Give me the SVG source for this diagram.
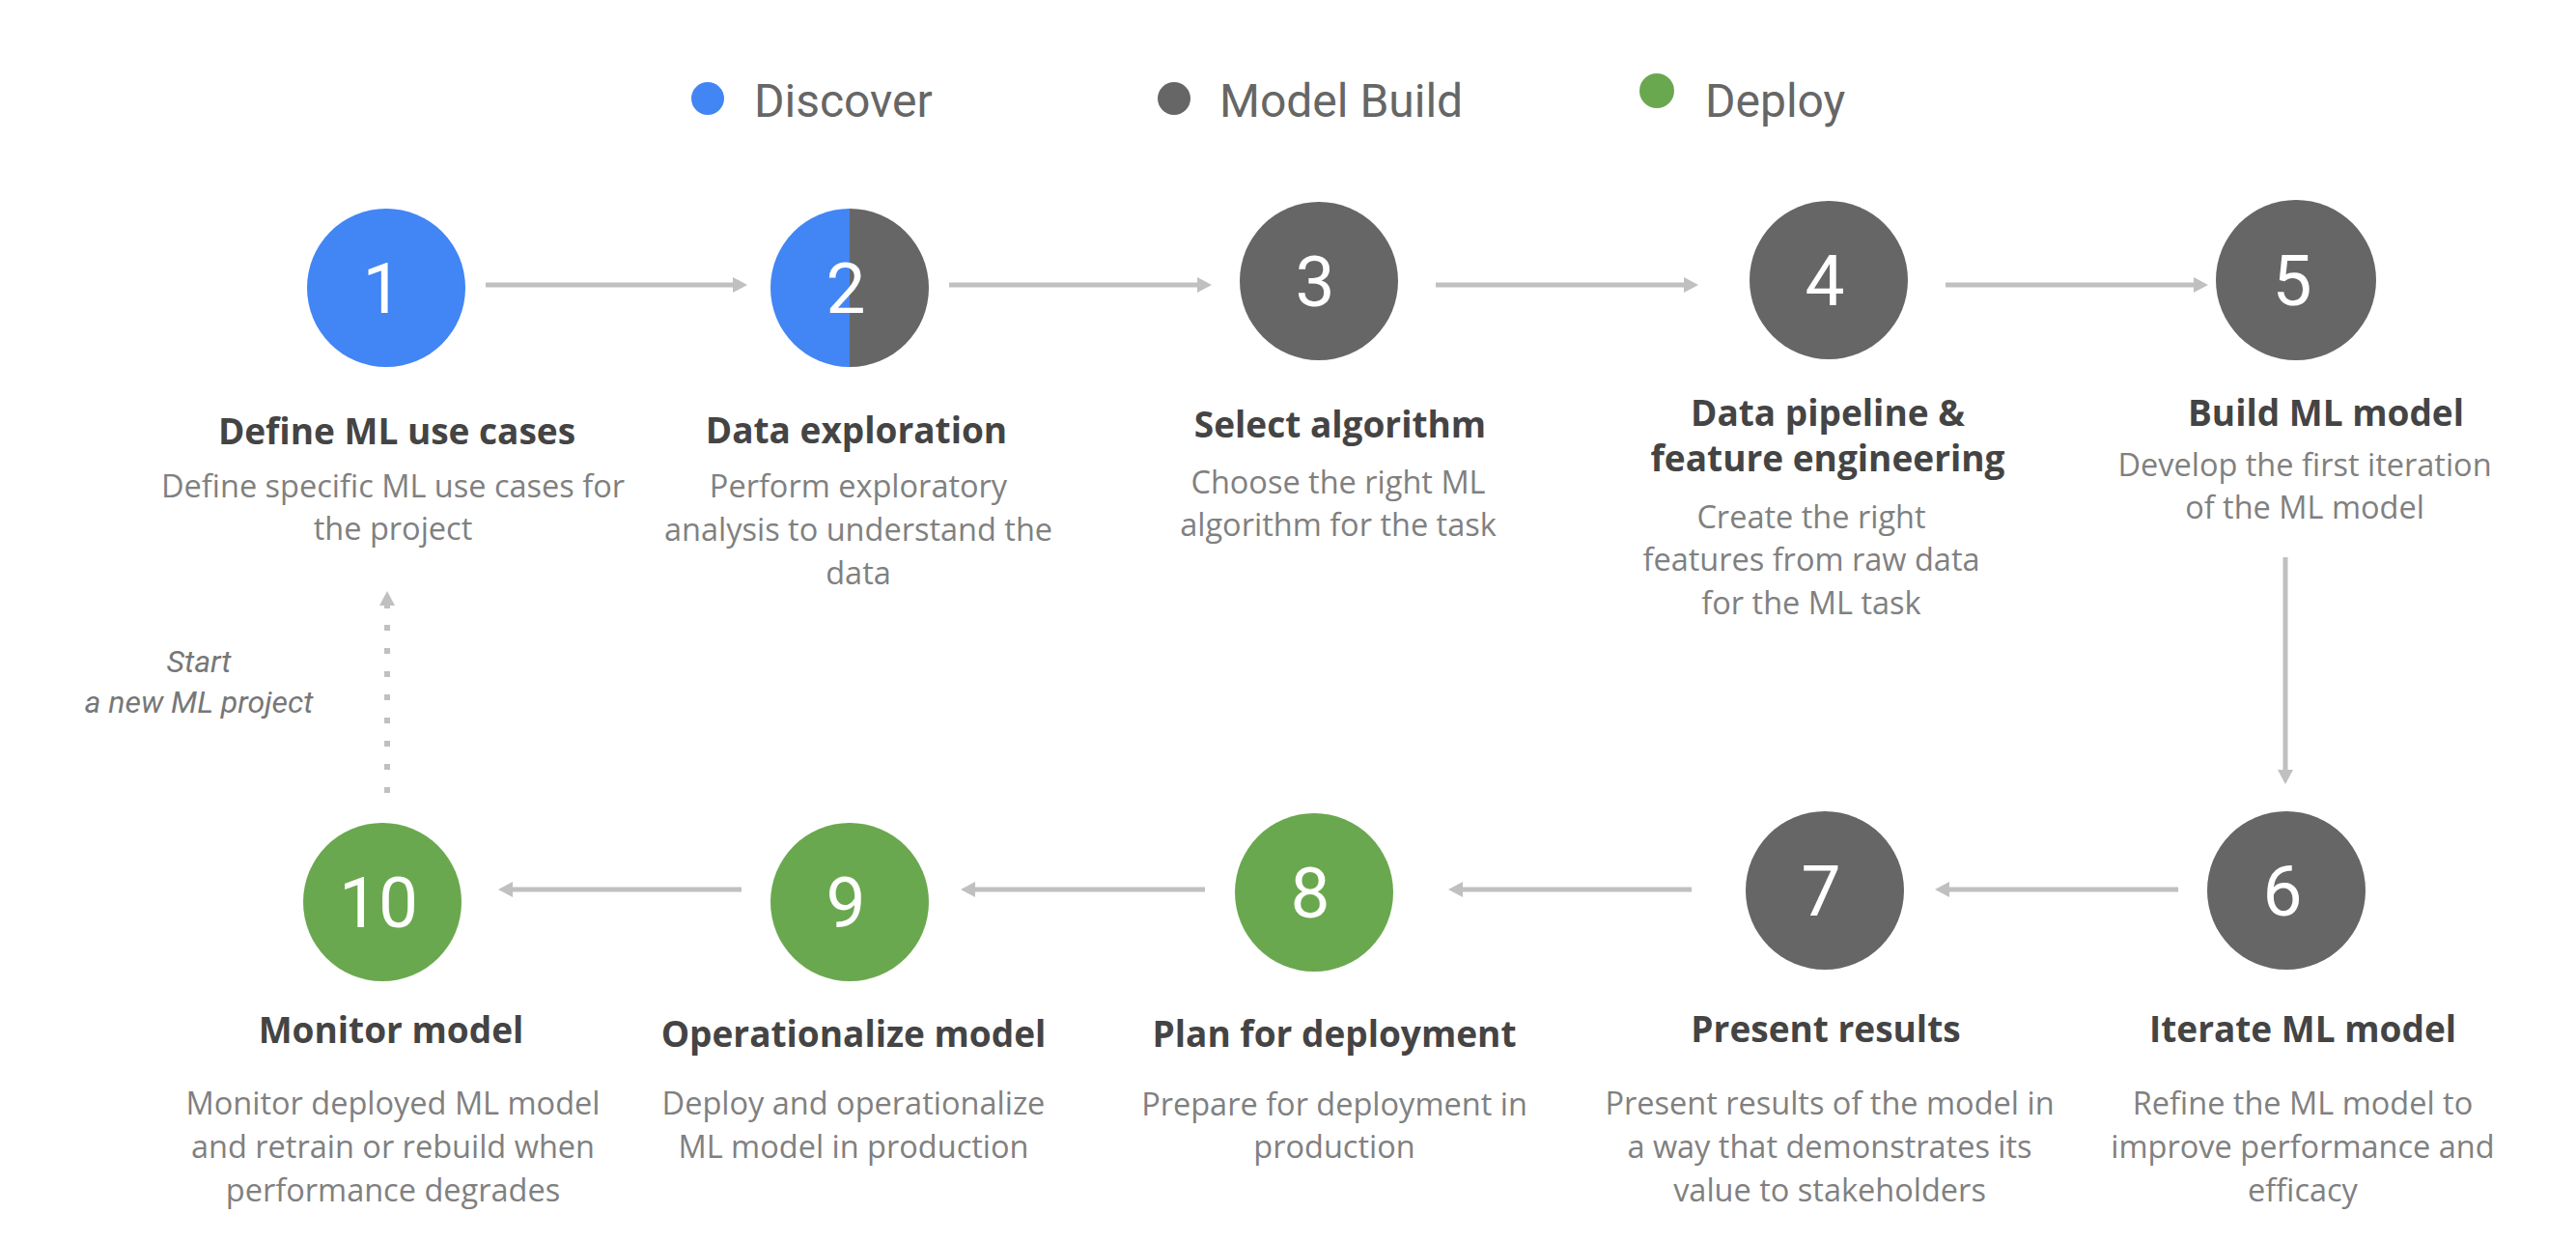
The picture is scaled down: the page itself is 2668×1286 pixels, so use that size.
<svg xmlns="http://www.w3.org/2000/svg" width="2668" height="1286" viewBox="0 0 2668 1286">
<style>
.bg{fill:#ffffff}
.blue{fill:#4285f4}
.gray{fill:#666666}
.green{fill:#6aa84f}
.num{font-family:Roboto,"Liberation Sans",sans-serif;font-size:73px;fill:#ffffff;text-anchor:middle}
.legend{font-family:Roboto,"Liberation Sans",sans-serif;font-size:48px;fill:#666666}
.title{font-family:"Open Sans","Noto Sans","Liberation Sans",sans-serif;font-size:37px;font-weight:700;fill:#444444;text-anchor:middle}
.desc{font-family:"Open Sans","Noto Sans","Liberation Sans",sans-serif;font-size:32.5px;fill:#808080;text-anchor:middle}
.note{font-family:Roboto,"Liberation Sans",sans-serif;font-size:32px;font-style:italic;fill:#777777;text-anchor:middle}
.conn{stroke:#c0c0c0;stroke-width:5;fill:none}
.dots{stroke:#c0c0c0;stroke-width:6;fill:none;stroke-dasharray:6 18}
.head{fill:#c0c0c0}
</style>
<defs>
<marker id="ah" markerUnits="userSpaceOnUse" markerWidth="16" markerHeight="16" refX="3" refY="8" orient="auto">
<path d="M0,0 L15,8 L0,16 Z" class="head"/>
</marker>
</defs>
<rect class="bg" x="0" y="0" width="2668" height="1286"/>

<g id="legend">
<circle class="blue" cx="733" cy="102" r="17"/>
<text class="legend" x="781" y="121">Discover</text>
<circle class="gray" cx="1216" cy="102" r="17"/>
<text class="legend" x="1263" y="121">Model Build</text>
<circle class="green" cx="1716" cy="94" r="18"/>
<text class="legend" x="1766" y="121">Deploy</text>
</g>

<g id="connectors">
<line class="conn" x1="503" y1="295" x2="762" y2="295" marker-end="url(#ah)"/>
<line class="conn" x1="983" y1="295" x2="1243" y2="295" marker-end="url(#ah)"/>
<line class="conn" x1="1487" y1="295" x2="1747" y2="295" marker-end="url(#ah)"/>
<line class="conn" x1="2015" y1="295" x2="2275" y2="295" marker-end="url(#ah)"/>
<line class="conn" x1="2367" y1="577" x2="2367" y2="800" marker-end="url(#ah)"/>
<line class="conn" x1="2256" y1="921" x2="2016" y2="921" marker-end="url(#ah)"/>
<line class="conn" x1="1752" y1="921" x2="1512" y2="921" marker-end="url(#ah)"/>
<line class="conn" x1="1248" y1="921" x2="1007" y2="921" marker-end="url(#ah)"/>
<line class="conn" x1="768" y1="921" x2="528" y2="921" marker-end="url(#ah)"/>
<line class="dots" x1="401" y1="821" x2="401" y2="641"/>
<path class="head" d="M401,612 L409,627 L404,627 L404,630 L398,630 L398,627 L393,627 Z"/>
<text class="note" x="206" y="696">Start</text>
<text class="note" x="206" y="738">a new ML project</text>
</g>

<g id="node1">
<circle class="blue" cx="400" cy="298" r="82"/>
<text class="num" x="396" y="324">1</text>
<text class="title" x="411" y="460">Define ML use cases</text>
<text class="desc" x="407" y="515">Define specific ML use cases for</text>
<text class="desc" x="407" y="559">the project</text>
</g>

<g id="node2">
<path class="blue" d="M880,216 A82,82 0 0 0 880,380 Z"/>
<path class="gray" d="M880,216 A82,82 0 0 1 880,380 Z"/>
<text class="num" x="876" y="324">2</text>
<text class="title" x="887" y="459">Data exploration</text>
<text class="desc" x="889" y="515">Perform exploratory</text>
<text class="desc" x="889" y="560">analysis to understand the</text>
<text class="desc" x="889" y="605">data</text>
</g>

<g id="node3">
<circle class="gray" cx="1366" cy="291" r="82"/>
<text class="num" x="1362" y="317">3</text>
<text class="title" x="1388" y="453">Select algorithm</text>
<text class="desc" x="1386" y="511">Choose the right ML</text>
<text class="desc" x="1386" y="555">algorithm for the task</text>
</g>

<g id="node4">
<circle class="gray" cx="1894" cy="290" r="82"/>
<text class="num" x="1890" y="316">4</text>
<text class="title" x="1893" y="441">Data pipeline &amp;</text>
<text class="title" x="1893" y="488">feature engineering</text>
<text class="desc" x="1876" y="547">Create the right</text>
<text class="desc" x="1876" y="591">features from raw data</text>
<text class="desc" x="1876" y="636">for the ML task</text>
</g>

<g id="node5">
<circle class="gray" cx="2378" cy="290" r="83"/>
<text class="num" x="2374" y="316">5</text>
<text class="title" x="2409" y="441">Build ML model</text>
<text class="desc" x="2387" y="493">Develop the first iteration</text>
<text class="desc" x="2387" y="537">of the ML model</text>
</g>

<g id="node6">
<circle class="gray" cx="2368" cy="922" r="82"/>
<text class="num" x="2364" y="948">6</text>
<text class="title" x="2385" y="1079">Iterate ML model</text>
<text class="desc" x="2385" y="1154">Refine the ML model to</text>
<text class="desc" x="2385" y="1199">improve performance and</text>
<text class="desc" x="2385" y="1244">efficacy</text>
</g>

<g id="node7">
<circle class="gray" cx="1890" cy="922" r="82"/>
<text class="num" x="1886" y="948">7</text>
<text class="title" x="1891" y="1079">Present results</text>
<text class="desc" x="1895" y="1154">Present results of the model in</text>
<text class="desc" x="1895" y="1199">a way that demonstrates its</text>
<text class="desc" x="1895" y="1244">value to stakeholders</text>
</g>

<g id="node8">
<circle class="green" cx="1361" cy="924" r="82"/>
<text class="num" x="1357" y="950">8</text>
<text class="title" x="1382" y="1084">Plan for deployment</text>
<text class="desc" x="1382" y="1155">Prepare for deployment in</text>
<text class="desc" x="1382" y="1199">production</text>
</g>

<g id="node9">
<circle class="green" cx="880" cy="934" r="82"/>
<text class="num" x="876" y="960">9</text>
<text class="title" x="884" y="1084">Operationalize model</text>
<text class="desc" x="884" y="1154">Deploy and operationalize</text>
<text class="desc" x="884" y="1199">ML model in production</text>
</g>

<g id="node10">
<circle class="green" cx="396" cy="934" r="82"/>
<text class="num" x="392" y="960">10</text>
<text class="title" x="405" y="1080">Monitor model</text>
<text class="desc" x="407" y="1154">Monitor deployed ML model</text>
<text class="desc" x="407" y="1199">and retrain or rebuild when</text>
<text class="desc" x="407" y="1244">performance degrades</text>
</g>
</svg>
